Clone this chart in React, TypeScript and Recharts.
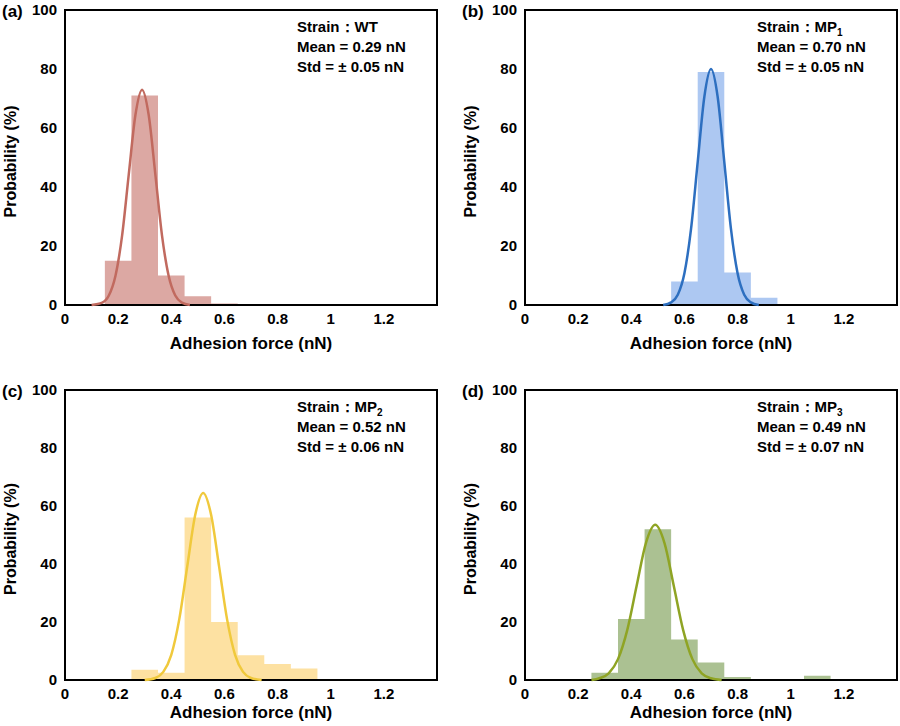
import React from "react";
import {
  ComposedChart,
  Area,
  Line,
  XAxis,
  YAxis,
  ReferenceArea,
} from "recharts";

// histogram bins: left edge + height (%), last entry closes the step
const histWT = [
  { x: 0.15, p: 15 }, { x: 0.25, p: 71 }, { x: 0.35, p: 10 }, { x: 0.45, p: 3 },
  { x: 0.55, p: 0.5 }, { x: 0.65, p: 0 },
];
const histMP1 = [
  { x: 0.55, p: 8 }, { x: 0.65, p: 79 }, { x: 0.75, p: 11 }, { x: 0.85, p: 2.5 },
  { x: 0.95, p: 0 },
];
const histMP2 = [
  { x: 0.25, p: 3.5 }, { x: 0.35, p: 2.5 }, { x: 0.45, p: 56 }, { x: 0.55, p: 20 },
  { x: 0.65, p: 8.5 }, { x: 0.75, p: 5.5 }, { x: 0.85, p: 4 }, { x: 0.95, p: 0 },
];
const histMP3 = [
  { x: 0.25, p: 2.5 }, { x: 0.35, p: 21 }, { x: 0.45, p: 52 }, { x: 0.55, p: 14 },
  { x: 0.65, p: 6 }, { x: 0.75, p: 1 }, { x: 0.85, p: 0 }, { x: 1.05, p: 1.5 },
  { x: 1.15, p: 0 },
];

// fitted curves
const fitWT = [
  { x: 0.1, p: 0 }, { x: 0.14, p: 0.8 }, { x: 0.165, p: 3.2 }, { x: 0.19, p: 9.9 },
  { x: 0.215, p: 23.6 }, { x: 0.24, p: 44.3 }, { x: 0.265, p: 64.4 }, { x: 0.29, p: 73 },
  { x: 0.315, p: 64.4 }, { x: 0.34, p: 44.3 }, { x: 0.365, p: 23.6 }, { x: 0.39, p: 9.9 },
  { x: 0.415, p: 3.2 }, { x: 0.44, p: 0.8 }, { x: 0.47, p: 0 },
];
const fitMP1 = [
  { x: 0.52, p: 0 }, { x: 0.55, p: 0.9 }, { x: 0.575, p: 3.5 }, { x: 0.6, p: 10.8 },
  { x: 0.625, p: 25.9 }, { x: 0.65, p: 48.5 }, { x: 0.675, p: 70.6 }, { x: 0.7, p: 80 },
  { x: 0.725, p: 70.6 }, { x: 0.75, p: 48.5 }, { x: 0.775, p: 25.9 }, { x: 0.8, p: 10.8 },
  { x: 0.825, p: 3.5 }, { x: 0.85, p: 0.9 }, { x: 0.88, p: 0 },
];
const fitMP2 = [
  { x: 0.3, p: 0 }, { x: 0.34, p: 0.7 }, { x: 0.37, p: 2.8 }, { x: 0.4, p: 8.7 },
  { x: 0.43, p: 20.9 }, { x: 0.46, p: 39.1 }, { x: 0.49, p: 56.9 }, { x: 0.52, p: 64.5 },
  { x: 0.55, p: 56.9 }, { x: 0.58, p: 39.1 }, { x: 0.61, p: 20.9 }, { x: 0.64, p: 8.7 },
  { x: 0.67, p: 2.8 }, { x: 0.7, p: 0.7 }, { x: 0.74, p: 0 },
];
const fitMP3 = [
  { x: 0.25, p: 0 }, { x: 0.28, p: 0.6 }, { x: 0.315, p: 2.3 }, { x: 0.35, p: 7.2 },
  { x: 0.385, p: 17.3 }, { x: 0.42, p: 32.4 }, { x: 0.455, p: 47.2 }, { x: 0.49, p: 53.5 },
  { x: 0.525, p: 47.2 }, { x: 0.56, p: 32.4 }, { x: 0.595, p: 17.3 }, { x: 0.63, p: 7.2 },
  { x: 0.665, p: 2.3 }, { x: 0.7, p: 0.6 }, { x: 0.74, p: 0 },
];

const xTicks = [0, 0.2, 0.4, 0.6, 0.8, 1, 1.2];
const yTicks = [0, 20, 40, 60, 80, 100];

const font = "Arial, 'Liberation Sans', sans-serif";

interface PanelProps {
  tag: string;
  strain: string;
  sub?: string;
  mean: string;
  std: string;
  hist: { x: number; p: number }[];
  fit: { x: number; p: number }[];
  fill: string;
  stroke: string;
  left: number;
  top: number;
  height: number;
  labelOffset: number;
}

function Panel({ tag, strain, sub, mean, std, hist, fit, fill, stroke, left, top, height, labelOffset }: PanelProps) {
  const tickStyle = { fontSize: 15, fontWeight: 700, fill: "#000", fontFamily: font };
  return (
    <div style={{ position: "absolute", left, top, width: 450, height }}>
      <ComposedChart width={450} height={height} margin={{ top: 10, right: 13, bottom: 6, left: 0 }}>
        <XAxis
          type="number"
          dataKey="x"
          domain={[0, 1.4]}
          ticks={xTicks}
          allowDataOverflow
          tick={tickStyle}
          tickLine={false}
          axisLine={false}
          height={50}
          label={{ value: "Adhesion force (nN)", position: "insideBottom", offset: labelOffset, style: { fontSize: 17, fontWeight: 700, fill: "#000", fontFamily: font } }}
        />
        <YAxis
          type="number"
          domain={[0, 100]}
          ticks={yTicks}
          tick={tickStyle}
          tickLine={false}
          axisLine={false}
          width={65}
          label={{ value: "Probability (%)", angle: -90, position: "insideLeft", offset: 10, dy: 60, style: { fontSize: 16, fontWeight: 700, fill: "#000", fontFamily: font } }}
        />
        <Area
          data={hist}
          dataKey="p"
          type="stepAfter"
          fill={fill}
          fillOpacity={1}
          stroke="none"
          isAnimationActive={false}
        />
        <Line
          data={fit}
          dataKey="p"
          type="monotone"
          stroke={stroke}
          strokeWidth={2.5}
          dot={false}
          isAnimationActive={false}
        />
        <ReferenceArea x1={0} x2={1.4} y1={0} y2={100} fill="none" stroke="#000" strokeWidth={2} strokeOpacity={1} ifOverflow="visible" />
      </ComposedChart>
      <div style={{ position: "absolute", left: 2, top: 2, fontFamily: font, fontWeight: 700, fontSize: 17 }}>{tag}</div>
      <div style={{ position: "absolute", left: 297, top: 17, fontFamily: font, fontWeight: 700, fontSize: 15, lineHeight: "20px" }}>
        <div style={{ height: 20 }}>
          Strain：{strain}
          {sub && <sub style={{ fontSize: 10, lineHeight: 0 }}>{sub}</sub>}
        </div>
        <div>Mean = {mean} nN</div>
        <div>Std = ± {std} nN</div>
      </div>
    </div>
  );
}

export default function App() {
  return (
    <div style={{ position: "fixed", left: 0, top: 0, width: 900, height: 726, background: "#fff" }}>
      <Panel tag="(a)" strain="WT" mean="0.29" std="0.05" hist={histWT} fit={fitWT} fill="#dca8a3" stroke="#c16a5f" left={0} top={0} height={361} labelOffset={6} />
      <Panel tag="(b)" strain="MP" sub="1" mean="0.70" std="0.05" hist={histMP1} fit={fitMP1} fill="#adc8f2" stroke="#2d6fc0" left={460} top={0} height={361} labelOffset={6} />
      <Panel tag="(c)" strain="MP" sub="2" mean="0.52" std="0.06" hist={histMP2} fit={fitMP2} fill="#fde1a2" stroke="#f0c93c" left={0} top={380} height={356} labelOffset={12} />
      <Panel tag="(d)" strain="MP" sub="3" mean="0.49" std="0.07" hist={histMP3} fit={fitMP3} fill="#abc192" stroke="#8fa424" left={460} top={380} height={356} labelOffset={12} />
    </div>
  );
}
